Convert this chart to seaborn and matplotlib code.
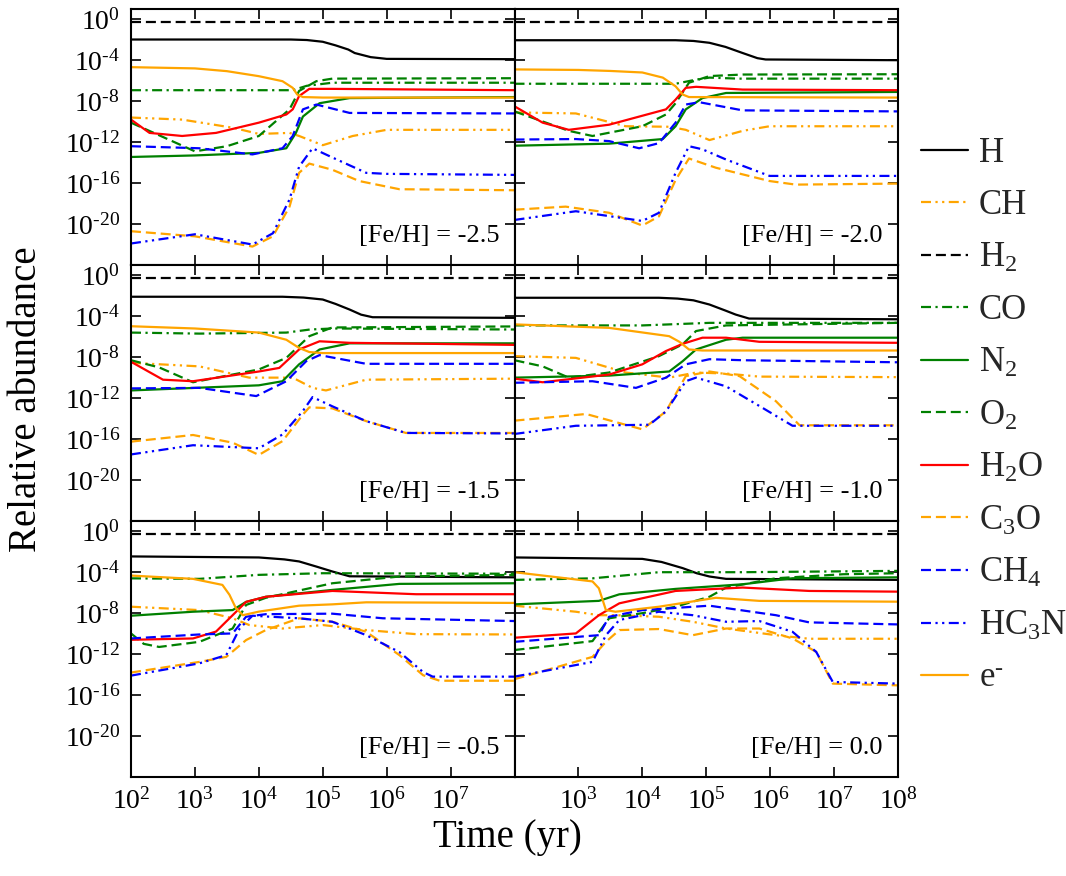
import matplotlib
matplotlib.use("Agg")
import numpy as np
import pandas as pd
import matplotlib.pyplot as plt
import seaborn as sns
from matplotlib.lines import Line2D
from matplotlib.ticker import FixedLocator, LogLocator, NullLocator, NullFormatter

sns.set_theme(style="ticks")
plt.rcParams["font.family"] = ["Liberation Serif", "DejaVu Serif"]
plt.rcParams["mathtext.fontset"] = "custom"
plt.rcParams["mathtext.rm"] = "Liberation Serif"
plt.rcParams["mathtext.it"] = "Liberation Serif:italic"
plt.rcParams["mathtext.bf"] = "Liberation Serif:bold"

# ---------------- data: [log10 t(yr), log10 abundance] per panel ----------------
metallicity = ["-2.5", "-2.0", "-1.5", "-1.0", "-0.5", "0.0"]

H = [
    [[2, -1.98], [4.5, -1.98], [4.75, -2.03], [5.0, -2.2], [5.2, -2.55], [5.4, -2.96], [5.5, -3.3], [5.75, -3.7], [6.0, -3.87], [8, -3.9]],
    [[2, -2.05], [4.52, -2.05], [4.8, -2.12], [5.05, -2.3], [5.3, -2.7], [5.57, -3.3], [5.8, -3.8], [5.93, -3.93], [8, -4.0]],
    [[2, -2.1], [4.37, -2.1], [4.7, -2.18], [5.0, -2.37], [5.2, -2.8], [5.42, -3.35], [5.6, -3.85], [5.78, -4.1], [8, -4.16]],
    [[2, -2.2], [4.26, -2.2], [4.55, -2.28], [4.8, -2.45], [5.05, -2.86], [5.3, -3.45], [5.46, -3.84], [5.67, -4.23], [8, -4.3]],
    [[2, -2.46], [4.0, -2.56], [4.4, -2.75], [4.63, -2.95], [4.9, -3.45], [5.15, -3.93], [5.42, -4.4], [8, -4.5]],
    [[2, -2.56], [4.0, -2.7], [4.3, -3.0], [4.63, -3.6], [4.85, -4.1], [5.05, -4.42], [5.31, -4.65], [8, -4.75]],
]
CH = [
    [[2, -9.6], [2.8, -9.8], [3.6, -10.6], [4, -11.2], [4.48, -11.1], [4.63, -11.4], [5, -12.3], [5.47, -11.4], [6, -10.8], [8, -10.8]],
    [[2, -9.1], [2.96, -9.2], [3.74, -10.45], [4.42, -10.5], [4.68, -10.8], [5.05, -11.8], [5.57, -10.9], [5.99, -10.45], [8, -10.45]],
    [[2, -8.55], [3.07, -8.9], [3.85, -10.0], [4.53, -10.0], [4.84, -11.0], [5.05, -11.25], [5.68, -10.2], [8, -10.1]],
    [[2, -7.9], [2.96, -8.07], [3.74, -9.5], [4.42, -10.0], [4.84, -9.5], [5.31, -9.6], [5.83, -9.9], [8, -9.95]],
    [[2, -7.37], [3.07, -7.7], [3.59, -8.5], [3.85, -9.16], [4.37, -9.5], [5, -9.16], [5.68, -9.65], [6.46, -10.05], [8, -10.08]],
    [[2, -7.27], [2.96, -7.86], [3.32, -8.2], [3.58, -8.2], [4.26, -8.35], [4.79, -8.84], [5.31, -9.5], [6.09, -10.15], [6.61, -10.5], [8, -10.5]],
]
H2 = [
    [[2, -0.25], [8, -0.25]],
    [[2, -0.25], [8, -0.25]],
    [[2, -0.26], [8, -0.26]],
    [[2, -0.26], [8, -0.26]],
    [[2, -0.24], [8, -0.24]],
    [[2, -0.24], [8, -0.24]],
]
CO = [
    [[2, -6.93], [4.53, -6.93], [4.75, -6.5], [5.15, -6.2], [8, -6.2]],
    [[2, -6.3], [4.52, -6.3], [4.84, -5.9], [5.05, -5.7], [5.5, -5.8], [8, -5.8]],
    [[2, -5.6], [3.07, -5.7], [4.43, -5.6], [4.8, -5.3], [5.15, -5.2], [8, -5.3]],
    [[2, -4.9], [4, -4.9], [5.05, -4.65], [8, -4.65]],
    [[2, -4.6], [3.07, -4.65], [4, -4.26], [5, -4.1], [8, -4.15]],
    [[2, -4.75], [3.22, -4.6], [4.26, -4.0], [5.57, -4.0], [8, -3.87]],
]
N2 = [
    [[2, -13.45], [3, -13.3], [4, -13.05], [4.43, -12.6], [4.58, -11.1], [4.69, -9.5], [4.95, -8.2], [5.42, -7.7], [8, -7.6]],
    [[2, -12.35], [3.48, -12.15], [4.32, -11.7], [4.52, -10.45], [4.68, -8.8], [4.94, -7.7], [5.31, -7.2], [8, -7.1]],
    [[2, -11.25], [4, -10.75], [4.37, -10.35], [4.63, -8.7], [4.95, -7.25], [5.42, -6.65], [8, -6.65]],
    [[2, -10.0], [3.48, -9.8], [4.42, -9.4], [4.63, -8.4], [4.84, -7.25], [5.31, -6.3], [5.57, -6.1], [8, -6.1]],
    [[2, -8.25], [2.97, -7.86], [3.59, -7.7], [3.8, -6.9], [4.11, -6.4], [5.15, -5.73], [6.2, -5.14], [8, -5.08]],
    [[2, -7.14], [3.32, -6.8], [3.64, -6.16], [4.52, -5.63], [5.57, -5.18], [6.35, -4.59], [8, -4.5]],
]
O2 = [
    [[2, -10.1], [2.5, -11.5], [3, -12.9], [3.5, -12.4], [4, -11.4], [4.48, -8.8], [4.63, -7.0], [4.9, -6.05], [5.15, -5.8], [8, -5.76]],
    [[2, -9.0], [2.85, -10.9], [3.22, -11.4], [4, -10.45], [4.37, -9.3], [4.52, -8.2], [4.73, -6.2], [5.05, -5.55], [5.57, -5.4], [8, -5.37]],
    [[2, -8.3], [2.44, -9.0], [2.97, -10.45], [4, -9.2], [4.43, -8.07], [4.79, -5.95], [5.15, -5.1], [8, -5.0]],
    [[2, -8.3], [2.44, -8.9], [2.85, -10.0], [3.48, -9.5], [4.26, -7.9], [4.63, -6.75], [4.84, -5.45], [5.31, -4.9], [8, -4.65]],
    [[2, -9.98], [2.2, -11.0], [2.44, -11.3], [3.07, -10.8], [3.59, -9.5], [3.8, -7.2], [4.11, -6.5], [5.15, -5.08], [6.2, -4.42], [8, -4.26]],
    [[2, -11.6], [3.22, -10.73], [3.48, -8.5], [4, -8.0], [4.52, -7.37], [5.05, -6.4], [5.31, -5.5], [6.09, -4.59], [7.14, -4.2], [8, -4.1]],
]
H2O = [
    [[2, -9.8], [2.29, -11.1], [2.8, -11.4], [3.33, -11.1], [4, -10.1], [4.43, -9.3], [4.53, -8.8], [4.63, -7.5], [4.79, -6.8], [5.15, -6.8], [8, -6.93]],
    [[2, -8.5], [2.44, -10.1], [2.85, -10.8], [3.48, -10.3], [4.37, -8.8], [4.52, -7.85], [4.68, -6.7], [4.84, -6.6], [5.57, -6.87], [8, -6.93]],
    [[2, -8.45], [2.5, -10.2], [2.97, -10.35], [4, -9.4], [4.32, -9.05], [4.63, -7.25], [4.95, -6.45], [5.42, -6.6], [8, -6.8]],
    [[2, -10.1], [2.44, -10.45], [3.48, -9.7], [4, -8.7], [4.37, -7.4], [4.63, -6.7], [4.94, -6.1], [5.31, -6.1], [5.83, -6.5], [8, -6.6]],
    [[2, -10.6], [2.97, -10.47], [3.33, -9.8], [3.59, -8.2], [3.8, -6.9], [4.11, -6.4], [5.15, -5.83], [5.68, -5.96], [6.46, -6.15], [8, -6.15]],
    [[2, -10.4], [2.96, -9.98], [3.32, -8.2], [3.64, -7.04], [4.52, -5.83], [5.57, -5.5], [6.61, -5.83], [8, -5.9]],
]
C3O = [
    [[2, -20.7], [3, -21.2], [3.9, -22.2], [4.22, -21.2], [4.48, -18.3], [4.63, -15.0], [4.79, -14.1], [5.15, -14.7], [5.57, -15.8], [6.2, -16.6], [8, -16.7]],
    [[2, -18.6], [2.8, -18.3], [3.48, -18.9], [4, -20.15], [4.26, -19.25], [4.52, -15.7], [4.73, -13.6], [5.15, -14.5], [5.99, -15.8], [6.4, -16.15], [8, -16.05]],
    [[2, -16.25], [2.97, -15.6], [3.59, -16.35], [4, -17.55], [4.37, -16.2], [4.69, -13.6], [4.79, -12.9], [5.15, -13.0], [5.68, -14.25], [6.3, -15.4], [8, -15.4]],
    [[2, -14.2], [3.12, -13.55], [4, -15.05], [4.37, -13.3], [4.68, -9.85], [5.05, -9.4], [5.52, -9.85], [6.09, -12.3], [6.46, -14.65], [8, -14.65]],
    [[2, -13.8], [3.07, -12.76], [3.49, -12.27], [3.8, -10.63], [4.11, -9.65], [4.63, -8.5], [5.15, -8.84], [5.68, -9.82], [6.2, -12.1], [6.57, -14.06], [6.83, -14.6], [8, -14.6]],
    [[2, -14.45], [3.22, -12.27], [3.43, -10.8], [3.64, -9.65], [4.26, -9.55], [4.79, -10.15], [5.31, -9.5], [5.83, -9.5], [6.35, -10.47], [6.72, -11.78], [6.98, -14.88], [8, -15.05]],
]
CH4 = [
    [[2, -12.4], [3.07, -12.6], [3.9, -13.2], [4.37, -12.6], [4.53, -11.4], [4.69, -8.8], [4.9, -8.33], [5.42, -9.15], [8, -9.2]],
    [[2, -11.75], [2.96, -11.7], [3.48, -11.9], [3.95, -12.6], [4.26, -12.1], [4.52, -10.1], [4.68, -8.33], [4.89, -8.1], [5.57, -8.9], [8, -9.0]],
    [[2, -11.05], [3.07, -11.0], [3.96, -11.8], [4.43, -10.35], [4.74, -8.4], [4.95, -7.8], [5.68, -8.65], [8, -8.65]],
    [[2, -10.5], [3.22, -10.35], [3.9, -11.0], [4.37, -10.0], [4.68, -8.7], [5.05, -8.2], [5.57, -8.3], [8, -8.5]],
    [[2, -10.47], [3.07, -10.08], [3.59, -9.98], [3.8, -8.35], [4.11, -8.1], [5.15, -8.05], [5.94, -8.5], [8, -8.77]],
    [[2, -10.8], [3.32, -10.15], [3.48, -8.35], [4, -7.7], [5.05, -7.27], [6.09, -8.2], [6.61, -8.9], [8, -9.1]],
]
HC3N = [
    [[2, -21.9], [3, -21.0], [3.9, -22.0], [4.22, -20.9], [4.48, -17.6], [4.63, -14.4], [4.84, -12.6], [5.15, -13.5], [5.68, -15.0], [6, -15.1], [8, -15.2]],
    [[2, -19.6], [2.96, -18.75], [4, -19.7], [4.26, -18.9], [4.52, -15.0], [4.73, -12.4], [4.94, -12.7], [5.31, -13.7], [5.99, -15.3], [8, -15.3]],
    [[2, -17.5], [2.97, -16.6], [4, -16.9], [4.37, -15.55], [4.69, -13.25], [4.84, -11.9], [5.15, -12.8], [5.68, -14.25], [6.3, -15.4], [8, -15.45]],
    [[2, -15.5], [2.96, -14.7], [4.11, -14.6], [4.37, -13.3], [4.68, -10.35], [4.84, -10.0], [5.31, -10.85], [5.88, -12.95], [6.35, -14.7], [8, -14.7]],
    [[2, -14.1], [3.07, -12.9], [3.49, -12.1], [3.7, -9.5], [3.9, -8.25], [4.63, -8.5], [5.15, -8.84], [5.68, -10.15], [6.2, -11.8], [6.57, -13.75], [6.72, -14.2], [8, -14.2]],
    [[2, -14.2], [3.22, -12.76], [3.43, -10.15], [3.64, -8.67], [4.26, -7.86], [4.79, -8.2], [5.31, -8.84], [5.83, -8.77], [6.35, -9.82], [6.72, -11.78], [6.98, -14.72], [8, -14.88]],
]
E_MINUS = [
    [[2, -4.68], [3, -4.8], [3.5, -5.07], [4, -5.56], [4.37, -6.05], [4.53, -6.7], [4.6, -7.35], [4.69, -7.6], [5, -7.65], [8, -7.65]],
    [[2, -4.9], [3, -4.95], [3.5, -5.05], [4, -5.2], [4.32, -5.7], [4.52, -6.55], [4.63, -7.35], [4.73, -7.6], [8, -7.65]],
    [[2, -4.98], [3, -5.2], [4, -5.6], [4.43, -6.3], [4.63, -7.1], [4.79, -7.5], [5, -7.6], [8, -7.6]],
    [[2, -4.8], [3.48, -5.14], [4.42, -5.95], [4.58, -6.5], [4.73, -7.25], [4.94, -7.35], [8, -7.35]],
    [[2, -4.33], [2.97, -4.65], [3.43, -5.24], [3.54, -6.2], [3.64, -7.5], [3.75, -8.2], [4, -7.85], [4.63, -7.27], [5.15, -7.14], [5.68, -6.94], [8, -7.0]],
    [[2, -4.0], [3.22, -4.9], [3.32, -5.57], [3.43, -7.7], [3.58, -7.86], [4.26, -7.37], [5.15, -6.5], [5.83, -6.8], [8, -6.88]],
]

species_labels = ["H", "CH", "H$_2$", "CO", "N$_2$", "O$_2$", "H$_2$O", "C$_3$O", "CH$_4$", "HC$_3$N", r"e$^{\text{-}}$"]
species_data = [H, CH, H2, CO, N2, O2, H2O, C3O, CH4, HC3N, E_MINUS]

y_tick_exponents = [0, -4, -8, -12, -16, -20]
x_tick_exponents = [2, 3, 4, 5, 6, 7, 8]


def pow_label(e):
    s = str(e).replace("-", r"\text{-}")
    return r"$10^{%s}$" % s


# ---------------- styles ----------------
ORANGE, GREEN, RED, BLUE, BLACK = "#FFA500", "#008000", "#FF0000", "#0000FF", "#000000"
SOLID = "-"
DASHED = (0, (4.5, 2.2))
DASHDOT = (0, (4.5, 2.0, 1.0, 2.0))
DASHDOTDOT = (0, (4.5, 2.0, 1.0, 2.0, 1.0, 2.0))
styles = [
    (BLACK, SOLID), (ORANGE, DASHDOTDOT), (BLACK, DASHED), (GREEN, DASHDOT),
    (GREEN, SOLID), (GREEN, DASHED), (RED, SOLID), (ORANGE, DASHED),
    (BLUE, DASHED), (BLUE, DASHDOTDOT), (ORANGE, SOLID),
]
LW = 1.6

fig = plt.figure(figsize=(10.66, 8.76), dpi=100)
gs = fig.add_gridspec(3, 2, left=131 / 1066, right=898 / 1066, top=1 - 9 / 876,
                      bottom=1 - 777 / 876, hspace=0, wspace=0)

for p in range(6):
    r, c = divmod(p, 2)
    ax = fig.add_subplot(gs[r, c])
    ax.set_xscale("log")
    ax.set_yscale("log")
    ax.set_xlim(1e2, 1e8)
    ax.set_ylim(1e-24, 1e1)
    for data, (col, ls) in zip(species_data, styles):
        arr = np.array(data[p], dtype=float)
        df = pd.DataFrame({"t": 10 ** arr[:, 0], "v": 10 ** arr[:, 1]})
        sns.lineplot(data=df, x="t", y="v", ax=ax, color=col, linestyle=ls, lw=LW,
                     sort=False, estimator=None, legend=False)
    ax.set_xlabel("")
    ax.set_ylabel("")
    ax.set_xlim(1e2, 1e8)
    ax.set_ylim(1e-24, 1e1)

    ax.yaxis.set_major_locator(FixedLocator([10.0 ** e for e in y_tick_exponents]))
    ax.yaxis.set_minor_locator(NullLocator())
    ax.xaxis.set_major_locator(FixedLocator([10.0 ** e for e in x_tick_exponents]))
    ax.xaxis.set_minor_locator(LogLocator(base=10, subs=np.arange(2, 10)))
    ax.xaxis.set_minor_formatter(NullFormatter())
    ax.yaxis.set_minor_formatter(NullFormatter())

    if c == 0:
        ax.set_yticklabels([pow_label(e) for e in y_tick_exponents])
    else:
        ax.set_yticklabels([])
    if r == 2:
        labs = []
        for e in x_tick_exponents:
            if (c == 0 and e == 8) or (c == 1 and e == 2):
                labs.append("")
            else:
                labs.append(pow_label(e))
        ax.set_xticklabels(labs)
    else:
        ax.set_xticklabels([])

    ax.tick_params(which="both", direction="in", top=True, right=True,
                   labelsize=20, colors="black", pad=8)
    ax.tick_params(which="major", length=7, width=1.2)
    ax.tick_params(which="minor", length=3.5, width=1.0)
    for s in ax.spines.values():
        s.set_linewidth(1.5)
        s.set_color("black")

    ax.text(0.96, 0.115, "[Fe/H] = %s" % metallicity[p], transform=ax.transAxes,
            ha="right", va="center", fontsize=19, color="black")

fig.text(27 / 1066, 1 - 399 / 876, "Relative abundance", rotation=90,
         ha="center", va="center", fontsize=28, color="black")
fig.text(507 / 1066, 1 - 838 / 876, "Time (yr)", ha="center", va="center",
         fontsize=28, color="black")

handles = [Line2D([], [], color=col, linestyle=ls, lw=LW) for col, ls in styles]
fig.legend(handles, species_labels, loc="upper left",
           bbox_to_anchor=(921 / 1066, 1 - 137 / 876), frameon=False,
           fontsize=25, handlelength=1.36, handletextpad=0.3, labelspacing=0.56,
           borderpad=0, borderaxespad=0)

fig.savefig("out.png", dpi=100)
